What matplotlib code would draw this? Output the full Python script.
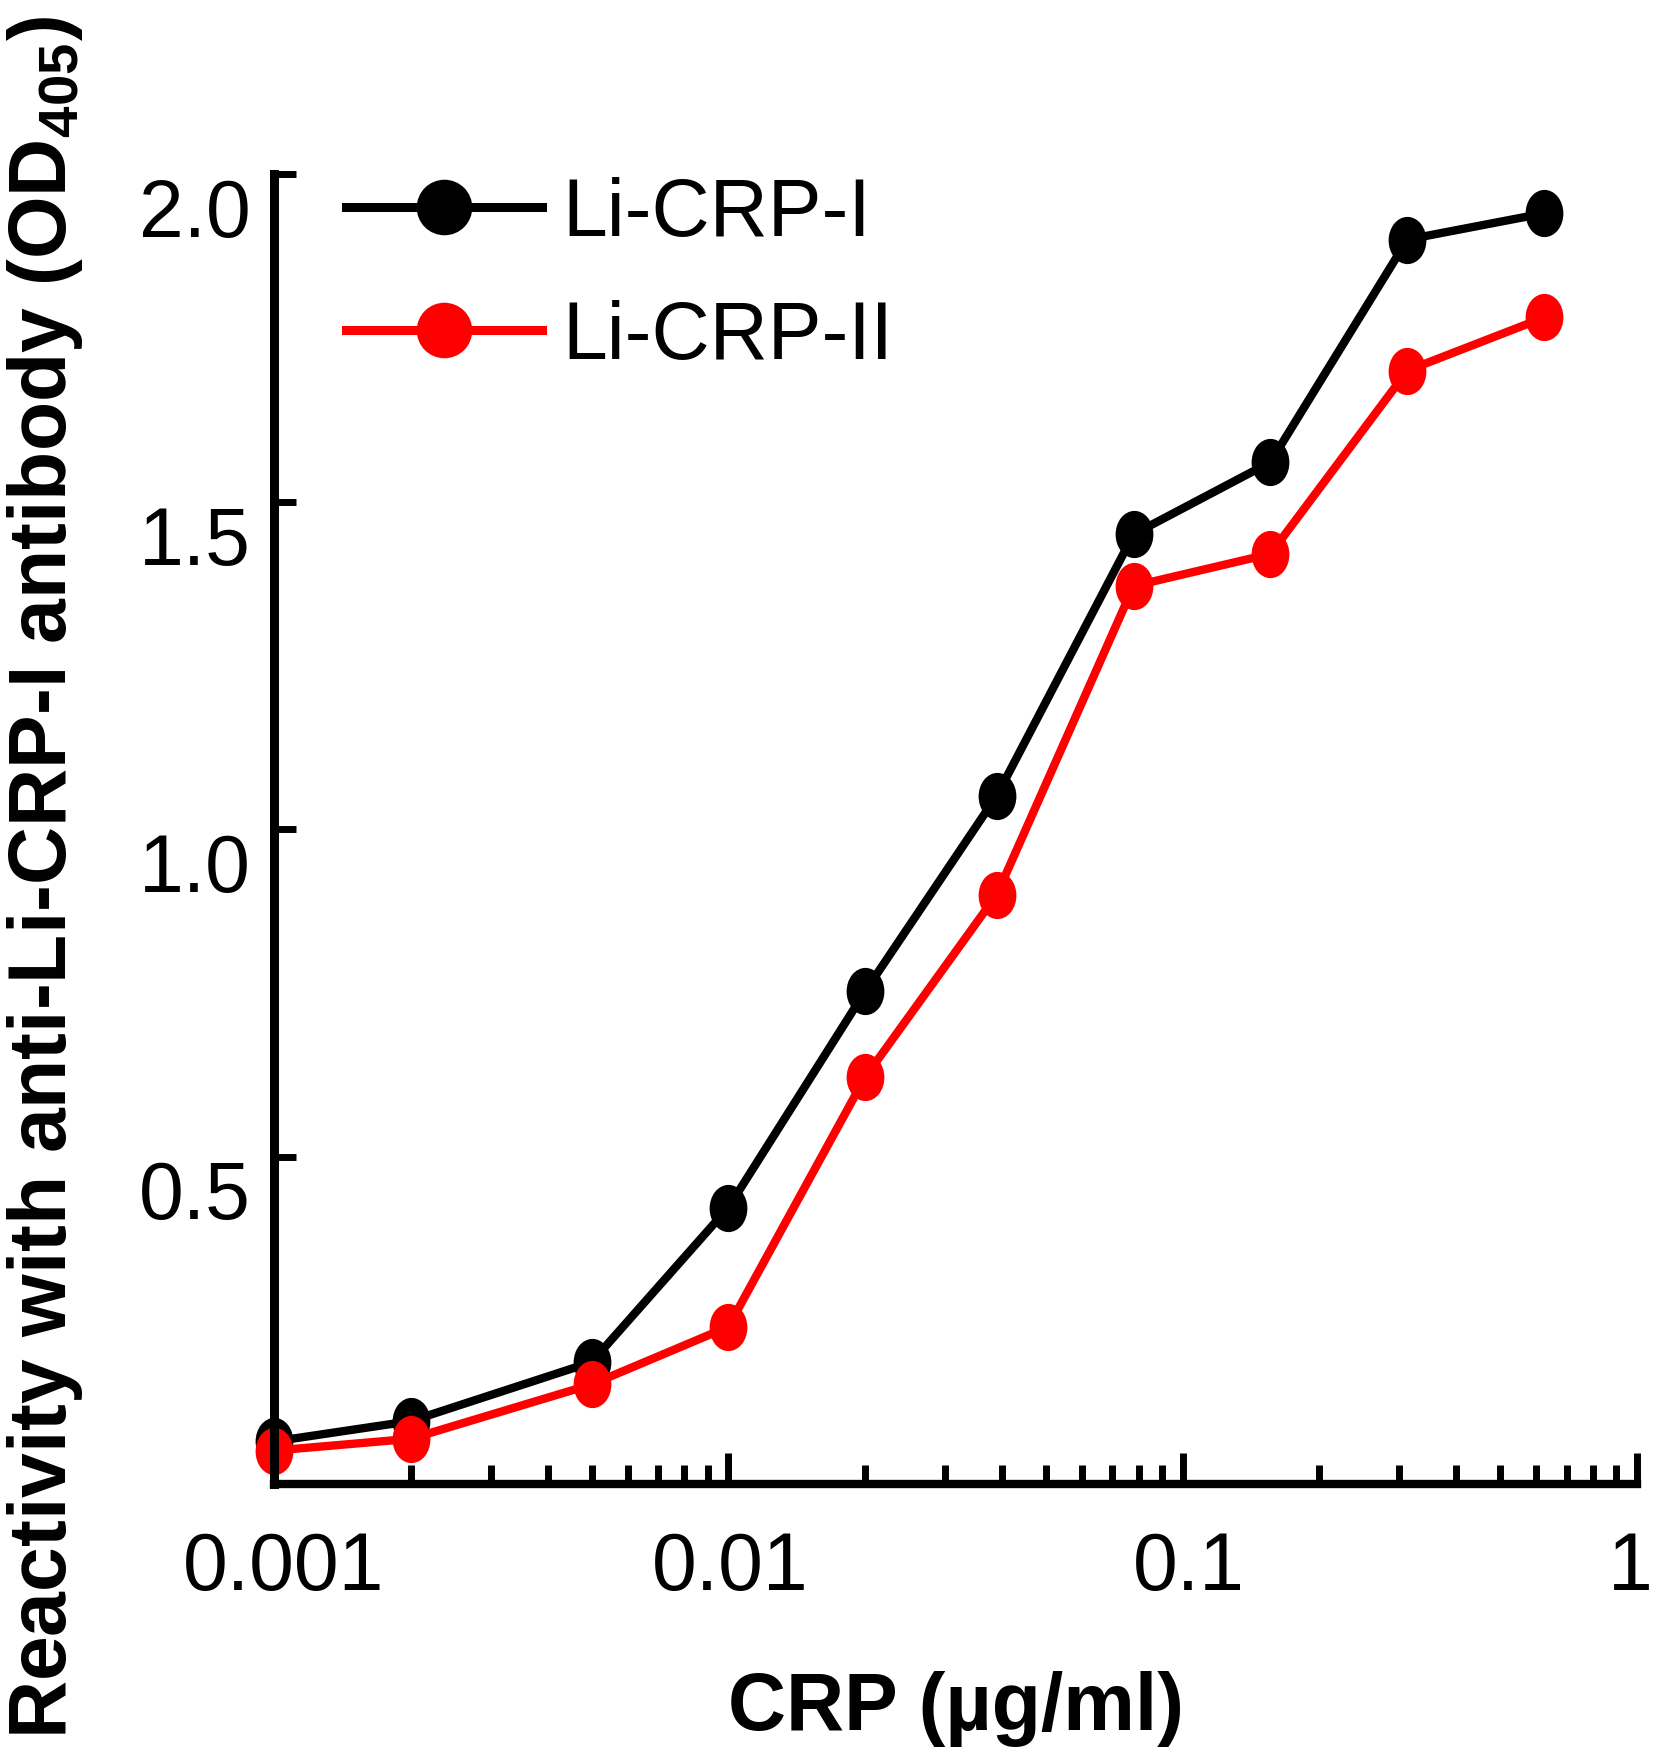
import matplotlib
matplotlib.use("Agg")
import matplotlib.pyplot as plt
from matplotlib.path import Path
from matplotlib.transforms import Affine2D, ScaledTranslation
from matplotlib.ticker import FixedLocator, FixedFormatter, LogLocator, NullFormatter

# ---- data ----
conc = [0.001, 0.002, 0.005, 0.01, 0.02, 0.039, 0.078, 0.156, 0.3125, 0.625]
li_crp_i = [0.065, 0.096, 0.186, 0.422, 0.752, 1.051, 1.450, 1.560, 1.900, 1.940]
li_crp_ii = [0.051, 0.069, 0.152, 0.240, 0.621, 0.900, 1.371, 1.420, 1.700, 1.781]
series_labels = ["Li-CRP-I", "Li-CRP-II"]
series_colors = ["#000000", "#ff0000"]
x_ticks = [0.001, 0.01, 0.1, 1]
x_ticklabels = ["0.001", "0.01", "0.1", "1"]
y_ticks = [0.5, 1.0, 1.5, 2.0]
y_ticklabels = ["0.5", "1.0", "1.5", "2.0"]
x_label = "CRP (\u00b5g/ml)"
y_label = r"Reactivity with anti-Li-CRP-I antibody (OD$_{\mathbf{405}}$)"

plt.rcParams["font.family"] = ["Liberation Sans", "DejaVu Sans"]
plt.rcParams["mathtext.fontset"] = "custom"
plt.rcParams["mathtext.rm"] = "Liberation Sans"
plt.rcParams["mathtext.bf"] = "Liberation Sans:bold"
plt.rcParams["mathtext.it"] = "Liberation Sans:italic"

W, H = 1653, 1749
fig = plt.figure(figsize=(W / 100, H / 100), dpi=100)
ax = fig.add_axes([274 / W, 1 - 1485 / H, (1637 - 274) / W, (1485 - 175) / H])

ellipse = Path.unit_circle().transformed(Affine2D().scale(0.8, 1.0))

for ys, lab, col in zip([li_crp_i, li_crp_ii], series_labels, series_colors):
    ax.plot(conc, ys, color=col, lw=6, marker=ellipse, markersize=34,
            markerfacecolor=col, markeredgecolor=col, markeredgewidth=0,
            label=lab, clip_on=False)

ax.set_xscale("log")
ax.set_xlim(0.001, 1)
ax.set_ylim(0, 2.0)

ax.xaxis.set_major_locator(FixedLocator(x_ticks))
ax.xaxis.set_major_formatter(FixedFormatter(x_ticklabels))
ax.xaxis.set_minor_locator(LogLocator(base=10, subs=range(2, 10)))
ax.xaxis.set_minor_formatter(NullFormatter())
ax.yaxis.set_major_locator(FixedLocator(y_ticks))
ax.yaxis.set_major_formatter(FixedFormatter(y_ticklabels))

for s in ["top", "right"]:
    ax.spines[s].set_visible(False)
ax.spines["left"].set_linewidth(6.5)
ax.spines["bottom"].set_linewidth(6)
ax.spines["left"].set_capstyle("projecting")
ax.spines["bottom"].set_capstyle("projecting")

ax.tick_params(axis="x", which="major", direction="in", length=22, width=5,
               labelsize=58, pad=33)
ax.tick_params(axis="x", which="minor", direction="in", length=14, width=5)
ax.tick_params(axis="y", which="major", direction="in", length=16, width=5,
               labelsize=58, pad=17)
for t in ax.get_yticklabels():
    t.set_va("top")
    t.set_transform(t.get_transform() + ScaledTranslation(0, -0.03, fig.dpi_scale_trans))

# small horizontal nudges of x tick labels (in pixels)
x_nudges = [10, 2, 6, -7]
for t, dx in zip(ax.get_xticklabels(), x_nudges):
    t.set_transform(t.get_transform() + ScaledTranslation(dx / 100, 0, fig.dpi_scale_trans))

ax.set_xlabel(x_label, fontsize=58, fontweight="bold")
ax.xaxis.set_label_coords(0.5, -(1730 - 1485) / 1310)
ax.xaxis.label.set_va("baseline")

ax.set_ylabel(y_label, fontsize=58, fontweight="bold")
ax.yaxis.set_label_coords((85 - 274) / 1363, (1485 - 878) / 1310)

leg = ax.legend(loc="upper left", bbox_to_anchor=(346 / W, 1 - 177 / H),
                bbox_transform=fig.transFigure, frameon=False, fontsize=58,
                handlelength=2.43, handletextpad=0.25, labelspacing=0.58,
                borderpad=0, borderaxespad=0)
for h in leg.legend_handles:
    h.set_marker("o")
    h.set_markersize(40)
    h.set_linewidth(6.5)

fig.savefig("out.png", dpi=100)
